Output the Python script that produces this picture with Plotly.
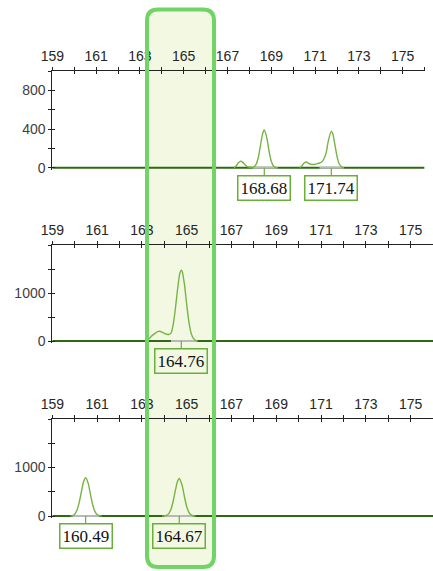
import plotly.graph_objects as go

# ---------------- data ----------------
X_TICK_VALS = list(range(159, 177))
X_TICK_TEXT = [str(v) if v % 2 == 1 else "" for v in X_TICK_VALS]

Y1_TICK_VALS = [0, 200, 400, 600, 800, 1000]
Y1_TICK_TEXT = ["0", "", "400", "", "800", ""]
Y23_TICK_VALS = [0, 500, 1000, 1500, 2000]
Y23_TICK_TEXT = ["0", "", "1000", "", ""]

X_RANGE = [159, 176]
Y1_RANGE = [-20, 1000]
Y23_RANGE = [-40, 2000]

# panel 1 traces
P1A_X = [167.3, 167.4, 167.5, 167.6, 167.7, 167.8, 167.9, 168.0, 168.1, 168.2, 168.3,
         168.4, 168.5, 168.6, 168.68, 168.8, 168.9, 169.0, 169.1, 169.2, 169.3]
P1A_Y = [0, 20, 50, 66, 55, 30, 12, 5, 4, 8, 32, 100, 222, 348, 389, 303, 168, 66, 18, 3, 0]
P1B_X = [170.3, 170.4, 170.5, 170.6, 170.7, 170.8, 170.9, 171.0, 171.1, 171.2, 171.3,
         171.4, 171.5, 171.6, 171.74, 171.8, 171.9, 172.0, 172.1, 172.2, 172.3]
P1B_Y = [0, 20, 48, 58, 45, 35, 33, 36, 42, 48, 58, 90, 150, 272, 378, 355, 243, 117, 40, 10, 0]

# panel 2 trace
P2_X = [163.2, 163.3, 163.4, 163.5, 163.6, 163.7, 163.8, 163.9, 164.0, 164.1, 164.2, 164.3,
        164.4, 164.5, 164.6, 164.7, 164.76, 164.8, 164.9, 165.0, 165.1, 165.2, 165.3, 165.4, 165.5]
P2_Y = [0, 40, 90, 130, 165, 195, 205, 185, 160, 145, 137, 165,
        350, 690, 1105, 1420, 1478, 1450, 1180, 770, 400, 165, 55, 14, 0]

# panel 3 traces
P3A_X = [159.8, 159.9, 160.0, 160.1, 160.2, 160.3, 160.4, 160.49, 160.6, 160.7, 160.8,
         160.9, 161.0, 161.1, 161.2]
P3A_Y = [0, 10, 39, 118, 277, 503, 714, 790, 679, 455, 238, 97, 31, 8, 0]
P3B_X = [163.9, 164.0, 164.1, 164.2, 164.3, 164.4, 164.5, 164.6, 164.67, 164.8, 164.9,
         165.0, 165.1, 165.2, 165.3, 165.4]
P3B_Y = [0, 3, 13, 49, 140, 311, 539, 727, 773, 626, 399, 198, 77, 23, 5, 0]

# gray baseline spans under peaks
GRAY_SPANS_1 = [(168.15, 169.25), (171.2, 172.3)]
GRAY_SPANS_2 = [(164.3, 165.45)]
GRAY_SPANS_3 = [(159.9, 161.1), (164.0, 165.3)]

# peak labels
LABELS_1 = [168.68, 171.74]
LABELS_2 = [164.76]
LABELS_3 = [160.49, 164.67]

# ---------------- styling / layout ----------------
W, H = 433, 571
TRACE_COLOR = "#76b443"
BASE_COLOR = "#2f6a12"
GRAY_COLOR = "#b8b8b8"
BOX_COLOR = "#6aae3c"
AXIS_COLOR = "#222222"

def px_x(p):
    return p / W

def px_y(p):
    return 1 - p / H

panels = [
    dict(xdom=[px_x(52.3), px_x(424.6)], ydom=[px_y(169.6), px_y(71)],
         yr=Y1_RANGE, ytv=Y1_TICK_VALS, ytt=Y1_TICK_TEXT,
         traces=[(P1A_X, P1A_Y), (P1B_X, P1B_Y)], gray=GRAY_SPANS_1, labels=LABELS_1),
    dict(xdom=[px_x(52.3), 1.0], ydom=[px_y(343), px_y(245)],
         yr=Y23_RANGE, ytv=Y23_TICK_VALS, ytt=Y23_TICK_TEXT,
         traces=[(P2_X, P2_Y)], gray=GRAY_SPANS_2, labels=LABELS_2),
    dict(xdom=[px_x(52.3), 1.0], ydom=[px_y(518), px_y(419)],
         yr=Y23_RANGE, ytv=Y23_TICK_VALS, ytt=Y23_TICK_TEXT,
         traces=[(P3A_X, P3A_Y), (P3B_X, P3B_Y)], gray=GRAY_SPANS_3, labels=LABELS_3),
]

fig = go.Figure()
layout = dict(template="none", width=W, height=H, margin=dict(l=0, r=0, t=0, b=0, pad=0),
              autosize=False,
              paper_bgcolor="white", plot_bgcolor="rgba(0,0,0,0)",
              showlegend=False, annotations=[], shapes=[])

tick_font = dict(family="Liberation Sans, Arial", size=14, color="#262626")

for i, p in enumerate(panels, start=1):
    xa, ya = f"x{i}" if i > 1 else "x", f"y{i}" if i > 1 else "y"
    xk, yk = f"xaxis{i}" if i > 1 else "xaxis", f"yaxis{i}" if i > 1 else "yaxis"
    ox, oy = i + 3, i + 3
    layout[xk] = dict(domain=p["xdom"], range=X_RANGE, side="top", anchor=ya,
                      automargin=False,
                      showline=True, linecolor=AXIS_COLOR, linewidth=1,
                      ticks="outside", ticklen=3, tickwidth=1, tickcolor=AXIS_COLOR,
                      tickvals=X_TICK_VALS, ticktext=X_TICK_TEXT, tickfont=tick_font,
                      ticklabelstandoff=0,
                      showgrid=False, zeroline=False, fixedrange=True)
    layout[yk] = dict(domain=p["ydom"], range=p["yr"], anchor=xa,
                      automargin=False,
                      showline=True, linecolor=AXIS_COLOR, linewidth=1,
                      ticks="outside", ticklen=3, tickwidth=1, tickcolor=AXIS_COLOR,
                      tickvals=p["ytv"], ticktext=p["ytt"],
                      tickfont=dict(family="Liberation Sans, Arial", size=14, color="#404040"),
                      showgrid=False, zeroline=False, fixedrange=True)
    # overlay axes to produce cross-shaped ticks
    layout[f"xaxis{ox}"] = dict(domain=p["xdom"], range=X_RANGE, side="top", anchor=ya,
                                overlaying=xa, automargin=False,
                                showline=False, ticks="inside", ticklen=3,
                                tickwidth=1, tickcolor=AXIS_COLOR, tickvals=X_TICK_VALS,
                                showticklabels=False, showgrid=False, zeroline=False,
                                fixedrange=True)
    layout[f"yaxis{oy}"] = dict(domain=p["ydom"], range=p["yr"], anchor=xa, side="left",
                                overlaying=ya, automargin=False,
                                showline=False, ticks="inside", ticklen=3,
                                tickwidth=1, tickcolor=AXIS_COLOR, tickvals=p["ytv"],
                                showticklabels=False, showgrid=False, zeroline=False,
                                fixedrange=True)
    fig.add_trace(go.Scatter(x=[None], y=[None], xaxis=f"x{ox}", yaxis=ya,
                             hoverinfo="skip", showlegend=False))
    fig.add_trace(go.Scatter(x=[None], y=[None], xaxis=xa, yaxis=f"y{oy}",
                             hoverinfo="skip", showlegend=False))

    # baseline
    fig.add_trace(go.Scatter(x=X_RANGE, y=[0, 0], xaxis=xa, yaxis=ya, mode="lines",
                             line=dict(color=BASE_COLOR, width=2), hoverinfo="skip"))
    for a, b in p["gray"]:
        fig.add_trace(go.Scatter(x=[a, b], y=[0, 0], xaxis=xa, yaxis=ya, mode="lines",
                                 line=dict(color=GRAY_COLOR, width=2), hoverinfo="skip"))
    for tx, ty in p["traces"]:
        fig.add_trace(go.Scatter(x=tx, y=ty, xaxis=xa, yaxis=ya, mode="lines",
                                 line=dict(color=TRACE_COLOR, width=1.4, shape="spline",
                                           smoothing=0.8),
                                 hoverinfo="skip"))
    for v in p["labels"]:
        layout["annotations"].append(dict(
            x=v, y=0, xref=xa, yref=ya, text=f"{v:.2f}", showarrow=True,
            arrowhead=0, arrowwidth=1.2, arrowcolor=BOX_COLOR, ax=0, ay=20,
            bordercolor=BOX_COLOR, borderwidth=1.5, borderpad=2,
            bgcolor="rgba(0,0,0,0)",
            font=dict(family="Liberation Serif, Times New Roman", size=17, color="#111111")))

# highlight rounded rectangle (pixel geometry converted to paper coords)
L, R, T, B, r = 147.0, 214.0, 9.5, 567.0, 11.0

def rr_path():
    pts = []
    pts.append(f"M {px_x(L + r)},{px_y(T)}")
    pts.append(f"L {px_x(R - r)},{px_y(T)}")
    pts.append(f"Q {px_x(R)},{px_y(T)} {px_x(R)},{px_y(T + r)}")
    pts.append(f"L {px_x(R)},{px_y(B - r)}")
    pts.append(f"Q {px_x(R)},{px_y(B)} {px_x(R - r)},{px_y(B)}")
    pts.append(f"L {px_x(L + r)},{px_y(B)}")
    pts.append(f"Q {px_x(L)},{px_y(B)} {px_x(L)},{px_y(B - r)}")
    pts.append(f"L {px_x(L)},{px_y(T + r)}")
    pts.append(f"Q {px_x(L)},{px_y(T)} {px_x(L + r)},{px_y(T)}")
    pts.append("Z")
    return " ".join(pts)

path = rr_path()
layout["shapes"].append(dict(type="path", path=path, xref="paper", yref="paper",
                             fillcolor="#f3f8e3", line=dict(width=0), layer="below"))
layout["shapes"].append(dict(type="path", path=path, xref="paper", yref="paper",
                             fillcolor="rgba(0,0,0,0)",
                             line=dict(color="#72d466", width=4), layer="above"))

fig.update_layout(**layout)
fig.write_html("out.html", config={"displayModeBar": False},
               post_script="document.body.style.margin='0';document.body.style.overflow='hidden';")
